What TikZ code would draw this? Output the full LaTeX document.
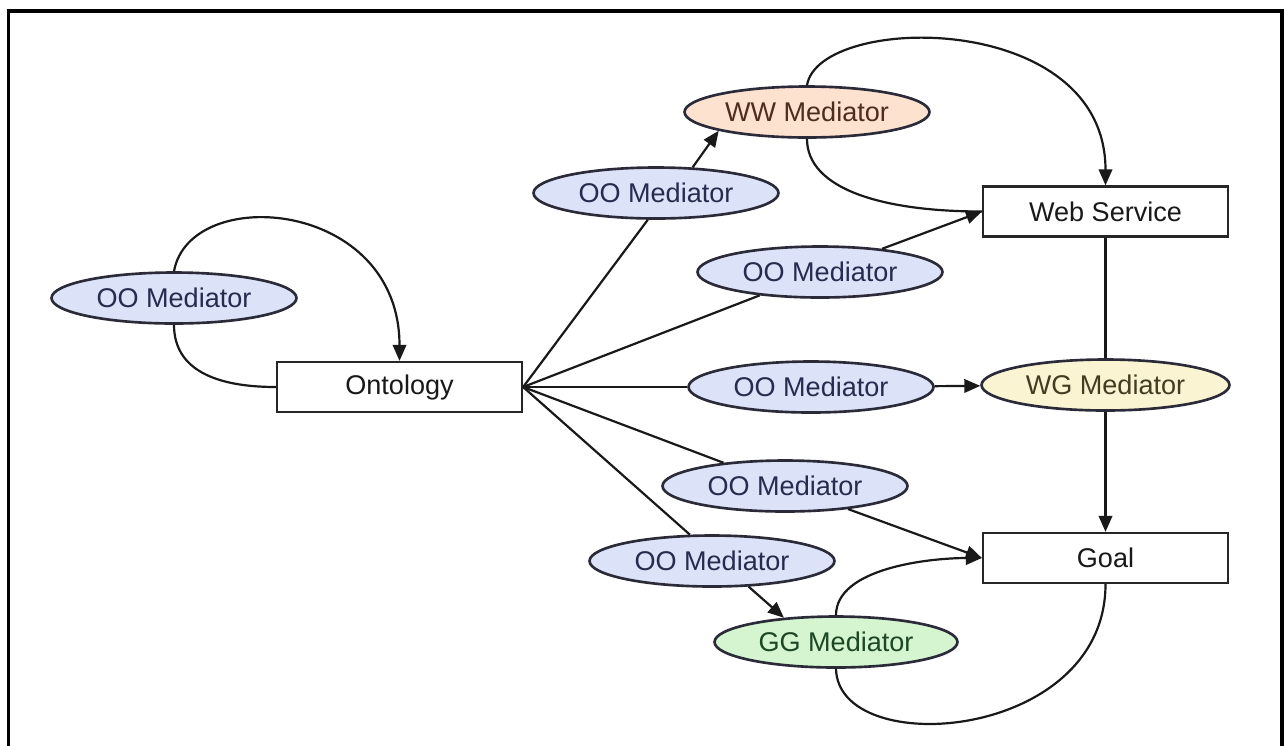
\documentclass[tikz,border=0pt]{standalone}
\usepackage{fontspec}
\setmainfont{Liberation Sans}
\usetikzlibrary{shapes.geometric,arrows.meta}
\definecolor{oofill}{RGB}{220,226,248}
\definecolor{ootext}{RGB}{38,44,78}
\definecolor{wwfill}{RGB}{253,226,208}
\definecolor{wwtext}{RGB}{78,44,30}
\definecolor{wgfill}{RGB}{251,244,210}
\definecolor{wgtext}{RGB}{66,60,34}
\definecolor{ggfill}{RGB}{212,245,208}
\definecolor{ggtext}{RGB}{28,70,36}
\definecolor{medline}{RGB}{42,42,56}
\begin{document}
\begin{tikzpicture}[x=0.02cm,y=-0.02cm,
  every node/.style={font=\fontsize{15.4}{18}\selectfont},
  box/.style={rectangle, draw=black!85, line width=1.3pt, fill=white,
    minimum width=4.9cm, minimum height=1cm, inner sep=0pt, text=black!90},
  med/.style={ellipse, draw=medline, line width=1.5pt, inner sep=0pt,
    minimum width=4.9cm, minimum height=1.02cm},
  oo/.style={med, fill=oofill, text=ootext},
  link/.style={draw=black!90, line width=1.25pt},
  arr/.style={link, -{Triangle[length=0.32cm,width=0.27cm]}},
  frame/.style={draw=black, line width=2pt}
]
\useasboundingbox (0,0) rectangle (1284,745);

% outer frame (open at the bottom edge of the page)
\coordinate (fbl) at (8.5,760);
\coordinate (ftl) at (8.5,10.8);
\coordinate (ftr) at (1282,10.8);
\coordinate (fbr) at (1282,760);
\draw[frame] (fbl) -- (ftl) -- (ftr) -- (fbr);

% main entities
\node[box] (ont)  at (399.5,387)  {Ontology};
\node[box] (ws)   at (1105.5,211.5) {Web Service};
\node[box] (goal) at (1105.5,558) {Goal};

% mediators
\node[oo] (oo1) at (174,298) {OO Mediator};
\node[oo] (oo2) at (656,193) {OO Mediator};
\node[oo] (oo3) at (820,272) {OO Mediator};
\node[oo] (oo4) at (811,387) {OO Mediator};
\node[oo] (oo5) at (785,486) {OO Mediator};
\node[oo] (oo6) at (712,561) {OO Mediator};
\node[med, fill=wwfill, text=wwtext] (ww) at (807,112) {WW Mediator};
\node[med, fill=wgfill, text=wgtext, minimum width=4.96cm] (wg) at (1105.5,385) {WG Mediator};
\node[med, fill=ggfill, text=ggtext, minimum width=4.86cm] (gg) at (836,642) {GG Mediator};

% ontology to ontology
\draw[arr]  (oo1.north) .. controls +(16,-88) and +(0,-162) .. (ont.north);
\draw[link] (oo1.south) .. controls +(0,45) and +(-60,0) .. (ont.west);

% ontology fan-out through the OO mediators
\draw[link] (ont.east) -- (oo2.253);
\draw[arr]  (oo2.35) -- (ww.192);
\draw[link] (ont.east) -- (oo3);
\draw[arr]  (oo3) -- (ws.west);
\draw[link] (ont.east) -- (oo4);
\draw[arr]  (oo4) -- (wg);
\draw[link] (ont.east) -- (oo5);
\draw[arr]  (oo5) -- (goal.west);
\draw[link] (ont.east) -- (oo6.130);
\draw[arr]  (oo6.-35) -- (gg.155);

% web service to web service
\draw[arr]  (ww.north) .. controls +(12,-72) and +(0,-176) .. (ws.north);
\draw[link] (ww.south) .. controls +(0,50) and +(-100,0) .. (ws.west);

% web service to goal
\draw[link] (ws.south) -- (wg.north);
\draw[arr]  (wg.south) -- (goal.north);

% goal to goal
\draw[arr]  (gg.north) .. controls +(0,-47) and +(-53,0) .. (goal.west);
\draw[link] (gg.south) .. controls +(2,92) and +(0,157) .. (goal.south);
\end{tikzpicture}
\end{document}
